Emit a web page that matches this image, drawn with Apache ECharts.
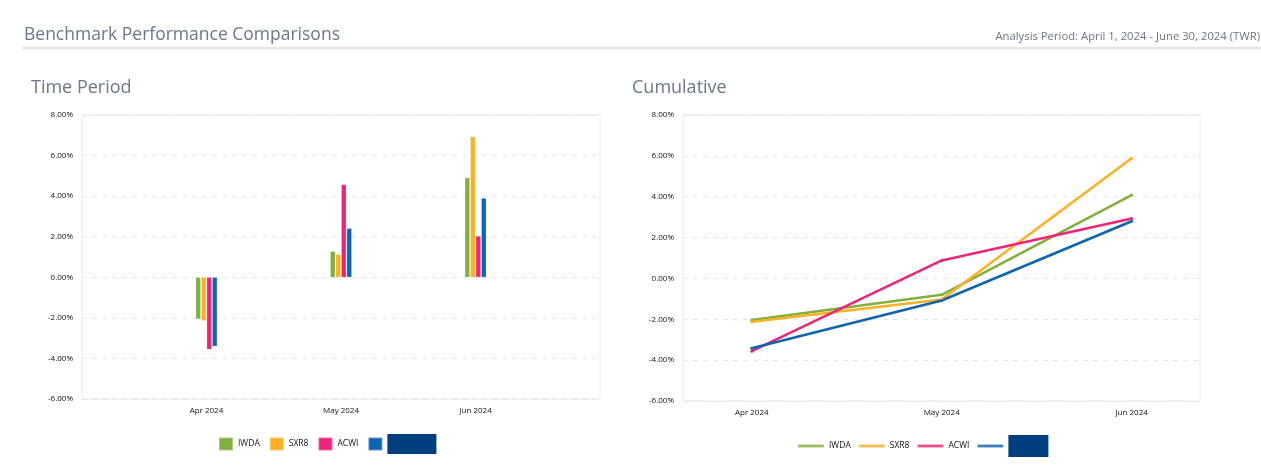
<!DOCTYPE html>
<html>
<head>
<meta charset="utf-8">
<script src="https://cdn.jsdelivr.net/npm/echarts@6/dist/echarts.min.js"></script>
<style>
html,body{margin:0;padding:0;background:#fff;}
#c{width:1261px;height:471px;}
</style>
</head>
<body>
<div id="c"></div>
<script>
var categories = ['Apr 2024', 'May 2024', 'Jun 2024'];
var seriesNames = ['IWDA', 'SXR8', 'ACWI', 'Benchmark'];
var yTicks = [-6, -4, -2, 0, 2, 4, 6, 8];

var periodIWDA = [-2.06, 1.28, 4.91];
var periodSXR8 = [-2.14, 1.13, 6.93];
var periodACWI = [-3.55, 4.57, 2.03];
var periodBench = [-3.40, 2.41, 3.90];

var cumIWDA = [-2.03, -0.80, 4.08];
var cumSXR8 = [-2.12, -1.03, 5.88];
var cumACWI = [-3.56, 0.88, 2.93];
var cumBench = [-3.42, -1.08, 2.80];

var colors = ['#82b03e', '#fdb022', '#ef2479', '#0d65b2'];
var redact = '#003f7f';
var FONT = '"Open Sans", "Noto Sans", sans-serif';

function pairs(arr){ return arr.map(function(v,i){ return [i, v]; }); }

var periodData = [periodIWDA, periodSXR8, periodACWI, periodBench];
var cumData = [cumIWDA, cumSXR8, cumACWI, cumBench];

function yAxis(gi){
  return {
    type: 'value', gridIndex: gi, min: yTicks[0], max: yTicks[yTicks.length-1], interval: 2,
    axisLine: {show:false}, axisTick: {show:false},
    axisLabel: {formatter: function(v){ return v.toFixed(2) + '%'; }, fontSize: 8, color: '#111', fontFamily: FONT, margin: 9},
    splitLine: {show:true, lineStyle: {color:'#e6e6e6', type:[5,5], width:1}}
  };
}
function xAxis(gi, mn, mx){
  return {
    type: 'value', gridIndex: gi, min: mn, max: mx,
    axisLine: {show:false}, axisTick: {show:false, customValues:[0,1,2]},
    splitLine: {show:false},
    axisLabel: {customValues:[0,1,2], formatter: function(v){ return categories[Math.round(v)] || ''; }, fontSize: 8, color:'#111', fontFamily: FONT, margin: 8}
  };
}
function legendFmt(name){
  return name === seriesNames[3] ? '{r|' + name + '}' : name;
}
function legendText(w, h){
  return {
    fontSize: 8.5, color:'#111', fontFamily: FONT,
    rich: { r: { color: redact, backgroundColor: redact, width: w, height: h, fontSize: 6, align:'center', overflow: 'truncate' } }
  };
}

var series = [];
seriesNames.forEach(function(n, i){
  series.push({
    name: n, type: 'bar', xAxisIndex: 0, yAxisIndex: 0,
    data: pairs(periodData[i]), barWidth: 5, barGap: '10%',
    itemStyle: {color: colors[i], borderColor: 'rgba(255,255,255,0.35)', borderWidth: 0.5},
    animation: false
  });
});
seriesNames.forEach(function(n, i){
  series.push({
    name: n, type: 'line', xAxisIndex: 1, yAxisIndex: 1,
    data: pairs(cumData[i]), symbol: 'circle', symbolSize: 3, showSymbol: true,
    lineStyle: {color: colors[i], width: 2.5}, itemStyle: {color: colors[i]},
    animation: false
  });
});

var chart = echarts.init(document.getElementById('c'), null, {renderer:'canvas'});
chart.setOption({
  animation: false,
  color: colors,
  title: [
    {text: 'Benchmark Performance Comparisons', left: 24, top: 26, padding: 0, textStyle: {fontSize: 17.5, fontWeight: 'normal', color: '#6a7888', fontFamily: FONT}},
    {text: 'Analysis Period: April 1, 2024 - June 30, 2024 (TWR)', right: 1, top: 31, padding: 0, textStyle: {fontSize: 11.3, fontWeight: 'normal', color: '#6a7785', fontFamily: FONT}},
    {text: 'Time Period', left: 31, top: 79, padding: 0, textStyle: {fontSize: 18, fontWeight: 'normal', color: '#6a7888', fontFamily: FONT}},
    {text: 'Cumulative', left: 632, top: 79, padding: 0, textStyle: {fontSize: 18, fontWeight: 'normal', color: '#6a7888', fontFamily: FONT}}
  ],
  graphic: [
    {type: 'line', shape: {x1: 22, y1: 48, x2: 1261, y2: 48}, style: {stroke: '#e2e4e6', lineWidth: 2}, silent: true}
  ],
  grid: [
    {left: 82, top: 115, width: 518, height: 284, show: true, borderColor: '#e8e8e8', borderWidth: 1, backgroundColor: 'transparent'},
    {left: 683, top: 115, width: 517, height: 286, show: true, borderColor: '#e8e8e8', borderWidth: 1, backgroundColor: 'transparent'}
  ],
  xAxis: [xAxis(0, -0.925, 2.925), xAxis(1, -0.362, 2.36)],
  yAxis: [yAxis(0), yAxis(1)],
  legend: [
    {
      data: seriesNames.map(function(n){ return {name: n, icon: 'rect'}; }),
      left: 218, top: 434, padding: 0, itemWidth: 14, itemHeight: 13, itemGap: 9,
      formatter: legendFmt, textStyle: legendText(49, 20),
      selectedMode: false
    },
    {
      data: seriesNames.map(function(n){ return {name: n, icon: 'path://M0,0L26,0L26,3L0,3Z'}; }),
      left: 797, top: 435, padding: 0, itemWidth: 26, itemHeight: 3, itemGap: 7,
      formatter: legendFmt, textStyle: legendText(40, 22),
      selectedMode: false
    }
  ],
  series: series
});
</script>
</body>
</html>
